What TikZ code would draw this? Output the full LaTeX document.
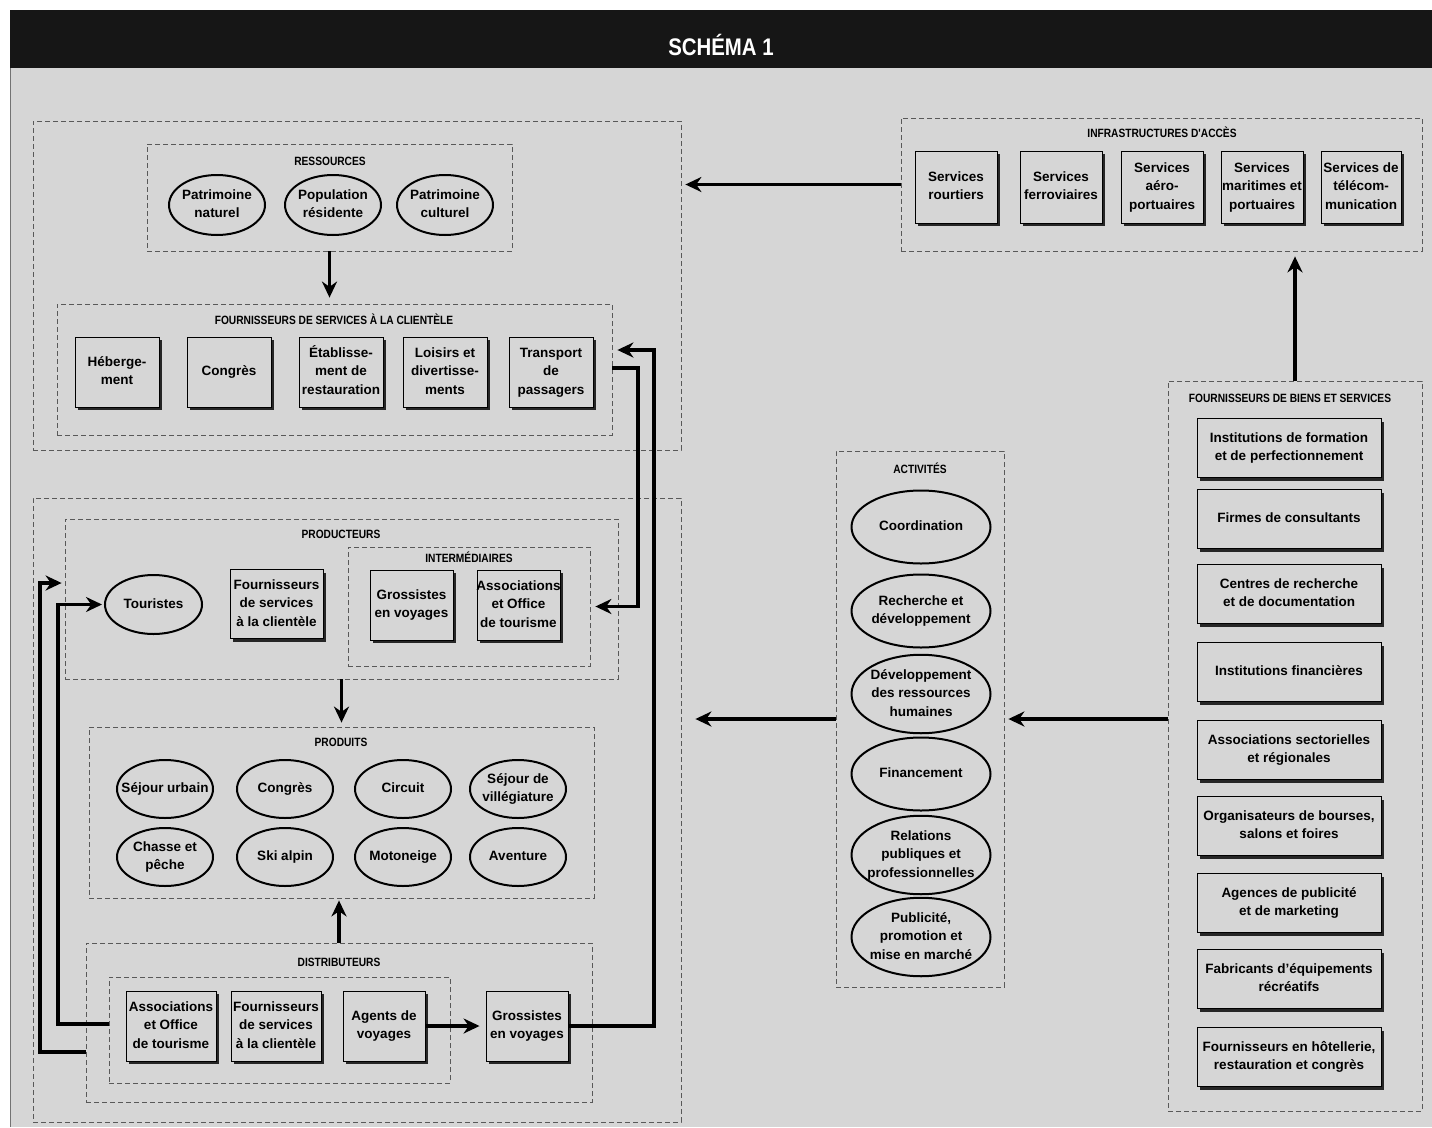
\documentclass[tikz,border=0pt]{standalone}
\usepackage{fontspec}
\setmainfont{Liberation Sans}
\newfontfamily\headfont[FakeStretch=0.85]{Liberation Sans}
\usetikzlibrary{arrows.meta,shapes.geometric,shadows}
\definecolor{bg}{RGB}{214,214,214}
\definecolor{bar}{RGB}{22,22,22}
\newcommand\tx[1]{\makebox[0pt]{\begin{tabular}{@{}c@{}}#1\end{tabular}}}
\tikzset{
  grp/.style={rectangle, draw=black!65, line width=0.8pt, dash pattern=on 5pt off 3pt, inner sep=0pt},
  hd/.style={font=\headfont\bfseries\fontsize{12}{14}\selectfont, inner sep=0pt},
  box/.style={rectangle, draw=black, line width=0.9pt, fill=bg, inner sep=0pt,
    font=\bfseries\fontsize{13.5}{18.5}\selectfont,
    drop shadow={shadow xshift=3pt, shadow yshift=-3pt, fill=black!85, opacity=1}},
  ell/.style={ellipse, draw=black, line width=2pt, inner sep=0pt,
    font=\bfseries\fontsize{13.5}{18.5}\selectfont},
  arr/.style={line width=3.2pt, -{Stealth[length=16pt,width=15pt]}},
}
\begin{document}
\begin{tikzpicture}[x=1pt,y=-1pt]
\useasboundingbox (0,0) rectangle (1432,1127);
\fill[white] (0,0) rectangle (1432,1127);
\fill[bg] (10,68) rectangle (1432,1127);
\fill[bar] (10,10) rectangle (1432,68);
\draw[black!55, line width=1.5pt] (10.5,68) -- (10.5,1127);
\node[font=\headfont\bfseries\fontsize{24}{26}\selectfont, text=white] (title) at (721,45) {SCHÉMA 1};

% ---------- group boxes ----------
\node[grp, minimum width=648pt, minimum height=329pt] (boxA) at (357,285.5) {};
\node[grp, minimum width=365pt, minimum height=107pt] (ress) at (329.5,197.5) {};
\node[grp, minimum width=555pt, minimum height=131pt] (fsc) at (334.5,369.5) {};
\node[grp, minimum width=521pt, minimum height=133pt] (ia) at (1161.5,184.5) {};
\node[grp, minimum width=254pt, minimum height=730pt] (fbs) at (1295,746) {};
\node[grp, minimum width=168pt, minimum height=536pt] (act) at (920,719) {};
\node[grp, minimum width=648pt, minimum height=624pt] (boxB) at (357,810) {};
\node[grp, minimum width=553pt, minimum height=160pt] (prod) at (341.5,599) {};
\node[grp, minimum width=242pt, minimum height=119pt] (inter) at (469,606.5) {};
\node[grp, minimum width=505pt, minimum height=171pt] (produits) at (341.5,812.5) {};
\node[grp, minimum width=506pt, minimum height=159pt] (dist) at (339,1022.5) {};
\node[grp, minimum width=341pt, minimum height=106pt] (dinner) at (279.5,1030) {};

% ---------- headings ----------
\node[hd] (hress) at (330,161) {RESSOURCES};
\node[hd] (hfsc) at (334,319) {FOURNISSEURS DE SERVICES À LA CLIENTÈLE};
\node[hd] (hia) at (1162,132) {INFRASTRUCTURES D'ACCÈS};
\node[hd] (hfbs) at (1290,398) {FOURNISSEURS DE BIENS ET SERVICES};
\node[hd] (hact) at (920,468) {ACTIVITÉS};
\node[hd] (hprod) at (341,534) {PRODUCTEURS};
\node[hd] (hinter) at (469,557) {INTERMÉDIAIRES};
\node[hd] (hproduits) at (341,742) {PRODUITS};
\node[hd] (hdist) at (339,962) {DISTRIBUTEURS};

% ---------- ressources ----------
\node[ell, minimum width=96pt, minimum height=60pt] (pn) at (217,205) {\tx{Patrimoine\\naturel}};
\node[ell, minimum width=96pt, minimum height=60pt] (pr) at (333,205) {\tx{Population\\résidente}};
\node[ell, minimum width=96pt, minimum height=60pt] (pc) at (445,205) {\tx{Patrimoine\\culturel}};

% ---------- fournisseurs de services ----------
\node[box, minimum width=84pt, minimum height=70pt] (heb) at (117,372) {\tx{Héberge-\\ment}};
\node[box, minimum width=84pt, minimum height=70pt] (cong) at (229,372) {\tx{Congrès}};
\node[box, minimum width=84pt, minimum height=70pt] (etab) at (341,372) {\tx{Établisse-\\ment de\\restauration}};
\node[box, minimum width=84pt, minimum height=70pt] (lois) at (445,372) {\tx{Loisirs et\\divertisse-\\ments}};
\node[box, minimum width=84pt, minimum height=70pt] (trans) at (551,372) {\tx{Transport\\de\\passagers}};

% ---------- infrastructures ----------
\node[box, minimum width=82pt, minimum height=72pt] (routiers) at (956,187) {\tx{Services\\rourtiers}};
\node[box, minimum width=82pt, minimum height=72pt] (ferro) at (1061,187) {\tx{Services\\ferroviaires}};
\node[box, minimum width=82pt, minimum height=72pt] (aero) at (1162,187) {\tx{Services\\aéro-\\portuaires}};
\node[box, minimum width=82pt, minimum height=72pt] (mari) at (1262,187) {\tx{Services\\maritimes et\\portuaires}};
\node[box, minimum width=80pt, minimum height=72pt] (tele) at (1361,187) {\tx{Services de\\télécom-\\munication}};

% ---------- fournisseurs de biens et services ----------
\node[box, minimum width=184pt, minimum height=59pt] (f1) at (1289,448) {\tx{Institutions de formation\\et de perfectionnement}};
\node[box, minimum width=184pt, minimum height=59pt] (f2) at (1289,519) {\tx{Firmes de consultants}};
\node[box, minimum width=184pt, minimum height=59pt] (f3) at (1289,594) {\tx{Centres de recherche\\et de documentation}};
\node[box, minimum width=184pt, minimum height=59pt] (f4) at (1289,672) {\tx{Institutions financières}};
\node[box, minimum width=184pt, minimum height=59pt] (f5) at (1289,750) {\tx{Associations sectorielles\\et régionales}};
\node[box, minimum width=184pt, minimum height=59pt] (f6) at (1289,826) {\tx{Organisateurs de bourses,\\salons et foires}};
\node[box, minimum width=184pt, minimum height=59pt] (f7) at (1289,903) {\tx{Agences de publicité\\et de marketing}};
\node[box, minimum width=184pt, minimum height=59pt] (f8) at (1289,979) {\tx{Fabricants d'équipements\\récréatifs}};
\node[box, minimum width=184pt, minimum height=59pt] (f9) at (1289,1057) {\tx{Fournisseurs en hôtellerie,\\restauration et congrès}};

% ---------- activites ----------
\node[ell, minimum width=139pt, minimum height=73pt] (a1) at (921,527) {\tx{Coordination}};
\node[ell, minimum width=139pt, minimum height=73pt] (a2) at (921,611) {\tx{Recherche et\\développement}};
\node[ell, minimum width=139pt, minimum height=73pt] (a3) at (921,694) {\tx{Développement\\des ressources\\humaines}};
\node[ell, minimum width=139pt, minimum height=73pt] (a4) at (921,774) {\tx{Financement}};
\node[ell, minimum width=139pt, minimum height=73pt] (a5) at (921,855) {\tx{Relations\\publiques et\\professionnelles}};
\node[ell, minimum width=139pt, minimum height=73pt] (a6) at (921,937) {\tx{Publicité,\\promotion et\\mise en marché}};

% ---------- producteurs ----------
\node[ell, minimum width=97pt, minimum height=59pt] (tour) at (153.5,604.5) {\tx{Touristes}};
\node[box, minimum width=93pt, minimum height=69pt] (fourp) at (276.5,604) {\tx{Fournisseurs\\de services\\à la clientèle}};
\node[box, minimum width=83pt, minimum height=70pt] (grossp) at (411.5,605) {\tx{Grossistes\\en voyages}};
\node[box, minimum width=83pt, minimum height=70pt] (assocp) at (518.5,605) {\tx{Associations\\et Office\\de tourisme}};

% ---------- produits ----------
\node[ell, minimum width=96pt, minimum height=58pt] (p1) at (165,789) {\tx{Séjour urbain}};
\node[ell, minimum width=96pt, minimum height=58pt] (p2) at (285,789) {\tx{Congrès}};
\node[ell, minimum width=96pt, minimum height=58pt] (p3) at (403,789) {\tx{Circuit}};
\node[ell, minimum width=96pt, minimum height=58pt] (p4) at (518,789) {\tx{Séjour de\\villégiature}};
\node[ell, minimum width=96pt, minimum height=58pt] (p5) at (165,857) {\tx{Chasse et\\pêche}};
\node[ell, minimum width=96pt, minimum height=58pt] (p6) at (285,857) {\tx{Ski alpin}};
\node[ell, minimum width=96pt, minimum height=58pt] (p7) at (403,857) {\tx{Motoneige}};
\node[ell, minimum width=96pt, minimum height=58pt] (p8) at (518,857) {\tx{Aventure}};

% ---------- distributeurs ----------
\node[box, minimum width=90pt, minimum height=70pt] (assocd) at (171,1026) {\tx{Associations\\et Office\\de tourisme}};
\node[box, minimum width=90pt, minimum height=70pt] (fourd) at (276,1026) {\tx{Fournisseurs\\de services\\à la clientèle}};
\node[box, minimum width=82pt, minimum height=70pt] (agents) at (384,1026) {\tx{Agents de\\voyages}};
\node[box, minimum width=82pt, minimum height=70pt] (grossd) at (527,1026) {\tx{Grossistes\\en voyages}};

% ---------- connectors ----------
\draw[arr, shorten >=6pt] (ress.south) -- (ress.south |- fsc.north);
\draw[arr, shorten >=4pt] (ia.west) -- (ia.west -| boxA.east);
\draw[arr, shorten >=5pt] (fbs.north) -- (fbs.north |- ia.south);
\draw[arr, shorten >=4pt] (act.east -| fbs.west) -- (act.east);
\draw[arr, shorten >=14pt] (act.west) -- (act.west -| boxB.east);
\draw[arr, shorten >=4pt] (prod.south) -- (prod.south |- produits.north);
\draw[arr, shorten >=2pt] (dist.north) -- (dist.north |- produits.south);
\draw[arr, shorten >=6pt] (agents.east) -- (grossd.west);

\coordinate (r1) at (654,350);
\draw[arr, shorten >=5pt] (grossd.east) -| (r1) -- (r1 -| fsc.east);
\coordinate (r2) at (638,368);
\draw[arr, shorten >=5pt] (r2 -| fsc.east) -- (r2) |- (inter.east);
\coordinate (l1) at (58,1024);
\draw[arr, shorten >=2pt] (l1 -| dinner.west) -- (l1) |- (tour.west);
\coordinate (l2) at (40,1052);
\coordinate (l3) at (40,583);
\draw[arr, shorten >=3pt] (l2 -| dist.west) -- (l2) -- (l3) -- (l3 -| prod.west);
\end{tikzpicture}
\end{document}
